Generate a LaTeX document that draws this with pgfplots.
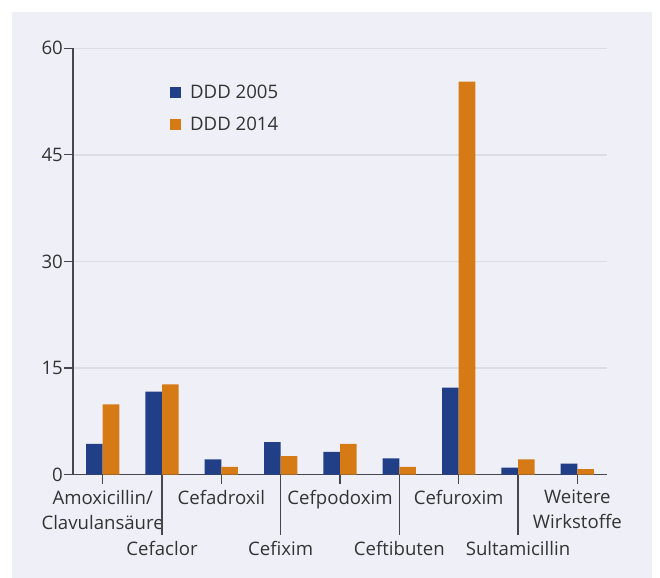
\documentclass[border=0pt]{standalone}
\usepackage{fontspec}
\setmainfont{Open Sans}
\usepackage{pgfplots}
\pgfplotsset{compat=1.18}
\definecolor{navy}{RGB}{33,63,135}
\definecolor{orng}{RGB}{214,122,22}
\definecolor{panel}{RGB}{239,239,248}
\definecolor{gridc}{RGB}{220,220,226}
\definecolor{axc}{RGB}{70,70,75}
\definecolor{txt}{RGB}{51,51,51}
\newcommand{\lblfont}{\fontsize{18.6bp}{25bp}\selectfont}
\begin{document}
\begin{tikzpicture}[x=1bp,y=1bp]
\useasboundingbox (0,0) rectangle (660,578);
\fill[white] (0,0) rectangle (660,578);
\fill[panel] (12,0) rectangle (652,566);
\begin{axis}[
  at={(73bp,103.3bp)}, anchor=south west,
  scale only axis, width=534bp, height=426.4bp,
  xmin=-0.5, xmax=8.5, ymin=0, ymax=60,
  axis x line*=bottom, axis y line*=left,
  axis line style={axc, line width=1.2bp},
  ytick={0,15,30,45,60},
  ymajorgrids, grid style={gridc, line width=1.5bp},
  tick align=outside,
  major tick length=9bp,
  tick style={axc, line width=1.2bp},
  /pgf/number format/assume math mode=true,
  yticklabel style={font=\lblfont, text=txt, inner sep=1bp},
  xtick={0,2,4,6,8},
  xticklabels={{Amoxicillin/\\Clavulansäure},Cefadroxil,Cefpodoxim,Cefuroxim,{Weitere\\Wirkstoffe}},
  xticklabel style={font=\lblfont, text=txt, align=center, anchor=north, inner sep=1bp, yshift=-5bp},
  extra x ticks={1,3,5,7},
  extra x tick labels={Cefaclor,Cefixim,Ceftibuten,Sultamicillin},
  extra x tick style={major tick length=60bp},
  legend style={draw=none, fill=none, at={(0.1816,0.918)}, anchor=north west,
    font=\lblfont, text=txt, row sep=13bp, inner sep=0pt},
  legend cell align=left,
  legend image code/.code={\fill (0bp,-5.5bp) rectangle (11bp,5.5bp); \path (18bp,0bp);},
]
\addplot[ybar, bar width=0.28, bar shift=-0.14, fill=navy, draw=none]
  coordinates {(0,4.35) (1,11.7) (2,2.15) (3,4.6) (4,3.2) (5,2.3) (6,12.25) (7,1.0) (8,1.55)};
\addlegendentry{DDD 2005}
\addplot[ybar, bar width=0.28, bar shift=0.14, fill=orng, draw=none]
  coordinates {(0,9.9) (1,12.7) (2,1.1) (3,2.6) (4,4.35) (5,1.1) (6,55.3) (7,2.15) (8,0.8)};
\addlegendentry{DDD 2014}
\end{axis}
\end{tikzpicture}
\end{document}
